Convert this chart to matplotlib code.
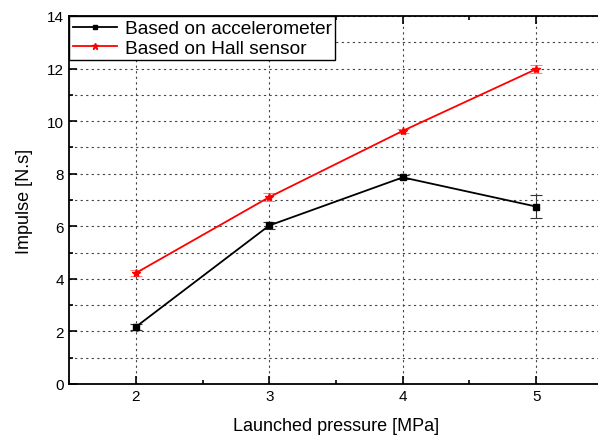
import numpy as np
import matplotlib.pyplot as plt
from matplotlib.ticker import MultipleLocator

plt.rcParams['font.family'] = ['Liberation Sans', 'DejaVu Sans']

pressure = [2, 3, 4, 5]
accel = [2.17, 6.03, 7.86, 6.75]
accel_err = [0.1, 0.15, 0.08, 0.45]
hall = [4.22, 7.11, 9.63, 11.98]
hall_err = [0.1, 0.15, 0.08, 0.15]

fig = plt.figure(figsize=(5.98, 4.39), dpi=100)
ax = fig.add_axes([69 / 598, 1 - 385 / 439, 534 / 598, 368 / 439])

# error bars drawn separately so the legend only shows the lines
ax.errorbar(pressure, accel, yerr=accel_err, fmt='none', capsize=4,
            elinewidth=0.8, capthick=0.8, ecolor='#333333', zorder=2)
ax.errorbar(pressure, hall, yerr=hall_err, fmt='none', capsize=4,
            elinewidth=0.8, capthick=0.8, ecolor='#ff8080', zorder=2)
ax.plot(pressure, accel, color='black', marker='s', markersize=4, lw=1.3,
        label='Based on accelerometer', zorder=3)
ax.plot(pressure, hall, color='red', marker='*', markersize=6, lw=1.3,
        label='Based on Hall sensor', zorder=3)

ax.set_xlim(1.5, 5.5)
ax.set_ylim(0, 14)
ax.xaxis.set_major_locator(MultipleLocator(1))
ax.xaxis.set_minor_locator(MultipleLocator(0.5))
ax.yaxis.set_major_locator(MultipleLocator(2))
ax.yaxis.set_minor_locator(MultipleLocator(1))
ax.tick_params(which='both', direction='in', top=True, right=False, labelsize=11, width=1.2)
ax.tick_params(which='major', length=6)
ax.tick_params(which='minor', length=3)

ax.grid(True, which='major', axis='x', color='#444444', linestyle=(0, (2, 3)), lw=0.8)
ax.grid(True, which='both', axis='y', color='#444444', linestyle=(0, (2, 3)), lw=0.8)
for s in ax.spines.values():
    s.set_linewidth(1.3)
ax.spines['right'].set_visible(False)

ax.set_xlabel('Launched pressure [MPa]', fontsize=13, labelpad=10)
ax.set_ylabel('Impulse [N.s]', fontsize=13, labelpad=10)

leg = ax.legend(loc='upper left', fontsize=13.8, frameon=True, fancybox=False,
                borderaxespad=0, borderpad=0.2, labelspacing=0.1, handlelength=2.3,
                handletextpad=0.4, markerscale=0.8)
leg.get_frame().set_edgecolor('black')
leg.get_frame().set_linewidth(1.0)
leg.get_frame().set_alpha(1)

fig.savefig('out.png', dpi=100)
